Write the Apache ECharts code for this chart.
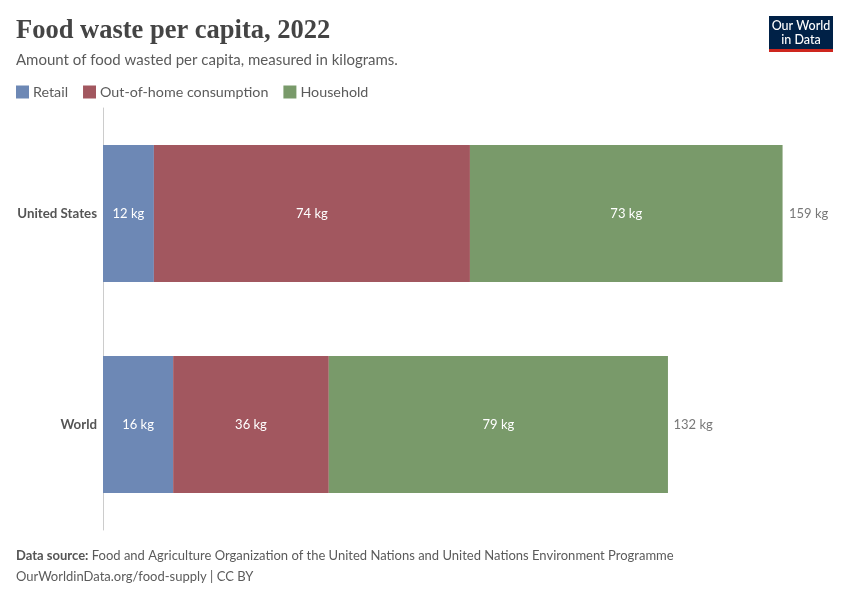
<!DOCTYPE html>
<html><head><meta charset="utf-8">
<script src="https://cdn.jsdelivr.net/npm/echarts@6/dist/echarts.min.js"></script>
<style>html,body{margin:0;padding:0;background:#fff}#c{width:850px;height:600px}</style>
</head><body><div id="c"></div>
<script>
const categories = ['United States', 'World'];
const retail = [11.9, 16.4];
const outOfHome = [73.9, 36.4];
const household = [73.1, 79.3];
const totals = [159, 132];
const seriesNames = ['Retail', 'Out-of-home consumption', 'Household'];
const colors = ['#6D88B5', '#A2575F', '#799A6A'];

const chart = echarts.init(document.getElementById('c'));
const font = 'Lato, "Noto Sans", sans-serif';
const yCats = categories.slice().reverse();
const rev = a => a.slice().reverse();
function barSeries(name, data, color) {
  return {
    name, type: 'bar', stack: 'total', data: rev(data), barWidth: '65%',
    itemStyle: { color },
    label: { show: true, position: 'inside', color: '#fff', fontFamily: font, fontSize: 13,
      formatter: p => Math.round(p.value) + ' kg' },
    emphasis: { disabled: true }
  };
}
chart.setOption({
  animation: false,
  title: [
    { text: 'Food waste per capita, 2022', left: 16, top: 18, padding: 0,
      textStyle: { fontFamily: '"Liberation Serif", "DejaVu Serif", serif', fontSize: 26.5, fontWeight: 'bold', color: '#444' } },
    { text: 'Amount of food wasted per capita, measured in kilograms.', left: 16, top: 53, padding: 0,
      textStyle: { fontFamily: font, fontSize: 15, fontWeight: 'normal', color: '#5b5b5b' } }
  ],
  legend: {
    left: 16, top: 85, padding: 0, itemWidth: 13, itemHeight: 13, itemGap: 15, icon: 'rect',
    textStyle: { fontFamily: font, fontSize: 14.3, color: '#5b5b5b', padding: [0, 0, 0, -1] },
    data: seriesNames, selectedMode: false
  },
  grid: { left: 103, right: 67, top: 108, bottom: 70 },
  xAxis: { type: 'value', min: 0, max: 159, show: false },
  yAxis: {
    type: 'category', data: yCats,
    axisLine: { show: true, lineStyle: { color: '#ccc' } },
    axisTick: { show: false },
    axisLabel: { fontFamily: font, fontSize: 13.3, fontWeight: 'bold', color: '#555', margin: 6 }
  },
  series: [
    barSeries(seriesNames[0], retail, colors[0]),
    barSeries(seriesNames[1], outOfHome, colors[1]),
    barSeries(seriesNames[2], household, colors[2]),
    {
      type: 'scatter', symbolSize: 0, silent: true,
      data: rev(totals).map((t, i) => [t, yCats[i]]),
      label: { show: true, position: 'right', distance: 6, color: '#555', fontFamily: font, fontSize: 13,
        formatter: p => p.value[0] + ' kg' }
    }
  ],
  graphic: [
    { type: 'rect', left: 769, top: 16, shape: { width: 64, height: 36 }, style: { fill: '#002147' } },
    { type: 'rect', left: 769, top: 49, shape: { width: 64, height: 3 }, style: { fill: '#CE261E' } },
    { type: 'text', x: 801, y: 19, style: { text: 'Our World\nin Data', fill: '#fff', fontFamily: font, fontSize: 12.5, fontWeight: 500, align: 'center', lineHeight: 14 } },
    { type: 'text', left: 16, top: 549, style: { rich: { b: { fontWeight: 'bold', fontFamily: font, fontSize: 13, fill: '#555' }, n: { fontFamily: font, fontSize: 13, fill: '#5b5b5b' } },
      text: '{b|Data source:} {n|Food and Agriculture Organization of the United Nations and United Nations Environment Programme}' } },
    { type: 'text', left: 16, top: 570, style: { text: 'OurWorldinData.org/food-supply | CC BY', fontFamily: font, fontSize: 13, fill: '#5b5b5b' } }
  ]
});
</script>
</body></html>
